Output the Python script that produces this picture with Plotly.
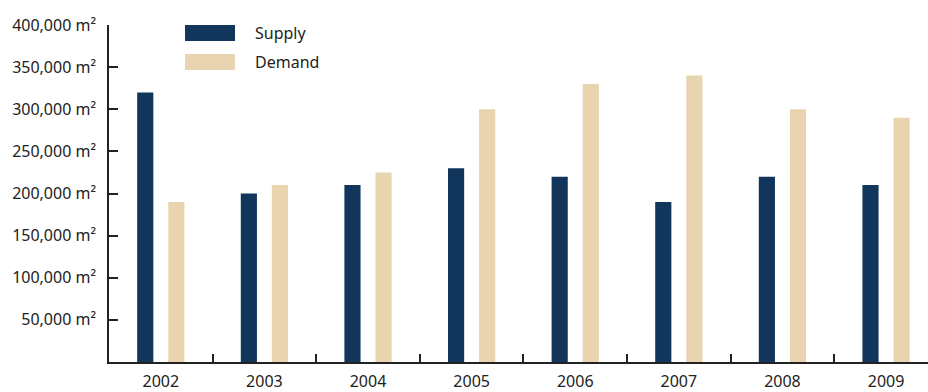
import plotly.graph_objects as go

years = ["2002", "2003", "2004", "2005", "2006", "2007", "2008", "2009"]
supply = [320000, 200000, 210000, 230000, 220000, 190000, 220000, 210000]
demand = [190000, 210000, 225000, 300000, 330000, 340000, 300000, 290000]
y_ticks = [50000, 100000, 150000, 200000, 250000, 300000, 350000, 400000]
y_tick_text = [f"{v:,} m²" for v in y_ticks]

SUPPLY_COLOR = "#12365b"
DEMAND_COLOR = "#e8d5b0"
AXIS_COLOR = "#222222"
FONT = "Noto Sans"
FONT_SIZE = 16

fig = go.Figure()
fig.add_trace(go.Bar(name="Supply", x=years, y=supply, marker_color=SUPPLY_COLOR,
                     marker_line_width=0, showlegend=False))
fig.add_trace(go.Bar(name="Demand", x=years, y=demand, marker_color=DEMAND_COLOR,
                     marker_line_width=0, showlegend=False))

# legend swatches drawn as wide blocks with labels beside them
for i, (label, color) in enumerate([("Supply", SUPPLY_COLOR), ("Demand", DEMAND_COLOR)]):
    top = 25 + i * 29
    fig.add_shape(type="rect", xref="paper", yref="paper",
                  x0=(185 - 109) / 819, x1=(235 - 109) / 819,
                  y0=(362 - top - 16) / 337, y1=(362 - top) / 337,
                  fillcolor=color, line_width=0)
    fig.add_annotation(text=label, xref="paper", yref="paper",
                       x=(253 - 109) / 819, y=(362 - top - 8) / 337,
                       xanchor="left", yanchor="middle", showarrow=False,
                       font=dict(family=FONT, size=FONT_SIZE, color=AXIS_COLOR))

fig.update_layout(
    width=928, height=392,
    margin=dict(l=109, r=0, t=25, b=30, autoexpand=False),
    paper_bgcolor="white", plot_bgcolor="white",
    barmode="group", bargap=0.40, bargroupgap=0.48,
    font=dict(family=FONT, size=FONT_SIZE, color=AXIS_COLOR),
)
fig.update_xaxes(
    type="category", range=[-0.5, 7.405], tickson="boundaries",
    ticks="inside", ticklen=8, tickwidth=1.5, tickcolor=AXIS_COLOR,
    showline=True, linewidth=1.5, linecolor=AXIS_COLOR,
    showgrid=False, zeroline=False, ticklabelstandoff=4, automargin=False,
)
fig.update_yaxes(
    range=[0, 400000], tickvals=y_ticks, ticktext=y_tick_text,
    ticks="inside", ticklen=9, tickwidth=1.5, tickcolor=AXIS_COLOR,
    showline=True, linewidth=1.5, linecolor=AXIS_COLOR,
    showgrid=False, zeroline=False, ticklabelstandoff=8, automargin=False,
)

fig.write_html("out.html")
